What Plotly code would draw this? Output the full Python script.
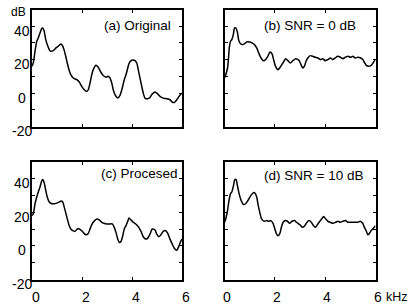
import plotly.graph_objects as go

# ---------------- data (kHz, dB) ----------------
a_khz = [0, 0.05, 0.12, 0.19, 0.25, 0.32, 0.39, 0.43, 0.48, 0.55, 0.61, 0.69, 0.75, 0.85, 0.96, 1.05, 1.15, 1.21,
         1.28, 1.35, 1.41, 1.48, 1.55, 1.65, 1.79, 1.89, 1.99, 2.09, 2.19, 2.25, 2.32, 2.39, 2.45, 2.56, 2.65, 2.75,
         2.85, 2.96, 3.03, 3.12, 3.19, 3.25, 3.32, 3.43, 3.52, 3.61, 3.69, 3.76, 3.83, 3.89, 3.99, 4.09, 4.19, 4.25,
         4.32, 4.39, 4.45, 4.52, 4.63, 4.72, 4.81, 4.92, 5.03, 5.12, 5.25, 5.39, 5.52, 5.61, 5.69, 5.79, 5.88, 5.96, 6.0]
a_db = [16, 18, 25, 31, 33, 36, 38.6, 39, 37.4, 32, 29, 26, 25, 25.4, 27, 28, 29.4, 28.6,
        26, 22, 18, 14, 11, 9, 8, 6.6, 4, 2, 1, 2, 6, 11, 14, 16.6, 15.4, 12.6,
        10.5, 9.5, 10, 9, 6, 2, -1, -3, -1.4, 3, 8, 11, 15, 18, 19.6, 19.6, 18, 14,
        9, 4, 0, -3, -3.4, -2.6, -0.6, 0.6, -0.6, -2, -3, -3.4, -4, -5.4, -5.6, -4, -2, -0.6, 0]

b_khz = [0, 0.05, 0.12, 0.16, 0.19, 0.24, 0.29, 0.35, 0.40, 0.45, 0.51, 0.56, 0.61, 0.69, 0.79, 0.88, 0.99, 1.09,
         1.19, 1.28, 1.36, 1.45, 1.55, 1.63, 1.72, 1.81, 1.89, 1.95, 2.03, 2.12, 2.21, 2.32, 2.43, 2.52, 2.61, 2.72,
         2.83, 2.92, 2.97, 3.04, 3.11, 3.17, 3.24, 3.31, 3.41, 3.51, 3.60, 3.71, 3.81, 3.90, 4.00, 4.10, 4.21, 4.30,
         4.40, 4.50, 4.61, 4.70, 4.80, 4.90, 5.01, 5.10, 5.19, 5.30, 5.41, 5.50, 5.57, 5.63, 5.72, 5.83, 5.90, 5.96, 6.0]
b_db = [9, 11, 15, 21, 27, 31, 32, 35, 39, 39, 36.6, 32, 30, 29, 29.4, 30.6, 30.6, 30,
        29, 27, 24, 21, 19.4, 20, 22, 24.6, 23.4, 20, 16, 14, 15.4, 18, 20.6, 19.4, 18, 19.4,
        20.6, 20, 19.4, 17, 15, 16, 19, 21, 22.4, 22, 21.4, 21, 20, 20.6, 19.4, 20, 21, 20,
        21, 22, 21.4, 20.6, 21.4, 22, 21.4, 22, 21, 21.4, 21, 20, 18, 16.6, 16, 16.6, 18, 19.4, 20]

c_khz = [0, 0.05, 0.12, 0.19, 0.25, 0.32, 0.39, 0.43, 0.48, 0.55, 0.61, 0.69, 0.79, 0.88, 0.99, 1.09, 1.16, 1.23,
         1.29, 1.36, 1.43, 1.49, 1.55, 1.63, 1.72, 1.81, 1.89, 1.99, 2.08, 2.16, 2.25, 2.32, 2.39, 2.48, 2.59, 2.69,
         2.79, 2.88, 2.99, 3.09, 3.21, 3.29, 3.36, 3.43, 3.49, 3.56, 3.63, 3.69, 3.76, 3.83, 3.88, 3.96, 4.05, 4.15,
         4.25, 4.36, 4.45, 4.55, 4.63, 4.72, 4.81, 4.92, 4.99, 5.08, 5.16, 5.25, 5.35, 5.43, 5.52, 5.61, 5.69, 5.79,
         5.88, 5.96, 6.0]
c_db = [18, 19, 25, 29, 32, 35, 38.6, 39.4, 38, 33, 29, 26, 25, 25, 25.4, 26, 26.6, 26,
        23, 19, 15, 12, 10, 9, 8.6, 10, 10, 9, 7.4, 6.6, 7.4, 10, 12.6, 14.6, 16, 15.4,
        14, 13.4, 13, 13, 13, 11, 8, 4, 2, 2.6, 6, 10, 12, 14.6, 16.6, 15.4, 14, 13,
        11.4, 8.6, 5.4, 4, 4.6, 7, 10, 9.4, 7, 5.4, 6.6, 8.6, 9, 7.4, 4, 1, -1.4, -2.6,
        0, 3, 4]

d_khz = [0, 0.05, 0.12, 0.18, 0.24, 0.29, 0.36, 0.41, 0.46, 0.51, 0.58, 0.66, 0.75, 0.84, 0.95, 1.05, 1.15, 1.21,
         1.28, 1.34, 1.41, 1.47, 1.58, 1.67, 1.76, 1.84, 1.93, 2.0, 2.07, 2.13, 2.20, 2.26, 2.33, 2.42, 2.5, 2.59,
         2.68, 2.79, 2.86, 2.92, 3.0, 3.1, 3.19, 3.28, 3.36, 3.45, 3.54, 3.62, 3.71, 3.81, 3.89, 3.94, 4.02, 4.11,
         4.2, 4.31, 4.41, 4.51, 4.6, 4.7, 4.81, 4.9, 4.99, 5.1, 5.2, 5.3, 5.39, 5.49, 5.56, 5.63, 5.69, 5.76,
         5.82, 5.89, 6.0]
d_db = [14, 16, 21, 27, 31, 32, 36, 39.4, 39.4, 36, 31, 27, 24.6, 25, 27.4, 30, 31.6, 31.4,
        29, 24, 19.4, 16, 14.6, 15, 14.6, 15, 13.4, 10, 7, 6, 7.4, 11, 14, 15, 14.6, 13.4,
        14.6, 15, 14, 13.4, 12.5, 11, 12, 14, 15, 14, 12, 11, 13, 15, 16.6, 17.4, 16, 14.6,
        14, 13.4, 14, 14.6, 14, 14.6, 15, 14, 14, 14, 14, 14, 14.6, 13.4, 11, 9, 6.6, 7.4,
        9, 10, 12]

panel_titles = ["(a) Original", "(b) SNR = 0 dB", "(c) Procesed", "(d) SNR = 10 dB"]
y_tick_labels = [40, 20, 0, -20]
x_tick_labels = [0, 2, 4, 6]

# ---------------- layout geometry (pixels) ----------------
W, H = 414, 307
FONT = "Liberation Sans, Arial, sans-serif"
col_px = [(32, 182), (224.5, 375.5)]
row_px = [(9.5, 126.5), (161.7, 279.5)]


def px_x(p):
    return p / W


def px_y(p):
    return 1 - p / H


fig = go.Figure()
series = [(a_khz, a_db), (b_khz, b_db), (c_khz, c_db), (d_khz, d_db)]
layout = dict(width=W, height=H, autosize=False, margin=dict(l=0, r=0, t=0, b=0),
              paper_bgcolor="white", plot_bgcolor="white", showlegend=False,
              font=dict(family=FONT, color="black"))
annotations = []

for i, (xs, ys) in enumerate(series):
    r, c = divmod(i, 2)
    n = "" if i == 0 else str(i + 1)
    fig.add_trace(go.Scatter(x=xs, y=ys, mode="lines", xaxis="x" + n, yaxis="y" + n,
                             line=dict(color="black", width=1.5, shape="spline", smoothing=0.6),
                             hoverinfo="skip"))
    x0, x1 = col_px[c]
    y0, y1 = row_px[r]
    layout["xaxis" + n] = dict(domain=[px_x(x0), px_x(x1)], anchor="y" + n, range=[0, 6],
                               tickmode="linear", tick0=0, dtick=2, ticks="inside", ticklen=3,
                               tickwidth=1, tickcolor="black", showticklabels=False,
                               showline=True, linecolor="black", linewidth=2, mirror="ticks",
                               showgrid=False, zeroline=False, fixedrange=True)
    layout["yaxis" + n] = dict(domain=[px_y(y1), px_y(y0)], anchor="x" + n, range=[-20, 50],
                               tickmode="linear", tick0=-20, dtick=10, ticks="inside", ticklen=3,
                               tickwidth=1, tickcolor="black", showticklabels=False,
                               showline=True, linecolor="black", linewidth=2, mirror="ticks",
                               showgrid=False, zeroline=False, fixedrange=True)
    # panel title
    title_right = [173, 358, 180, 365][i]
    title_y = [25, 25, 173.5, 175][i]
    annotations.append(dict(text=panel_titles[i], xref="paper", yref="paper",
                            x=px_x(title_right), y=px_y(title_y), xanchor="right", yanchor="middle",
                            showarrow=False, font=dict(size=13.5, family=FONT, color="black")))
    # y tick labels on left column
    if c == 0:
        for v in y_tick_labels:
            annotations.append(dict(text=str(v), xref="paper", yref="y" + n, x=px_x(22), y=v,
                                    xanchor="center", yanchor="middle", yshift=-4.5, showarrow=False,
                                    font=dict(size=14, family=FONT, color="black")))
    # x tick labels on bottom row
    if r == 1:
        for v in x_tick_labels:
            annotations.append(dict(text=str(v), xref="x" + n, yref="paper", x=v, y=px_y(296.5),
                                    xanchor="center", yanchor="middle", xshift=4 if c == 0 else 2,
                                    showarrow=False, font=dict(size=14, family=FONT, color="black")))

annotations.append(dict(text="dB", xref="paper", yref="paper", x=px_x(18), y=px_y(11.5),
                        xanchor="center", yanchor="middle", showarrow=False,
                        font=dict(size=12, family=FONT, color="black")))
annotations.append(dict(text="kHz", xref="paper", yref="paper", x=px_x(397), y=px_y(296.5),
                        xanchor="center", yanchor="middle", showarrow=False,
                        font=dict(size=12.5, family=FONT, color="black")))

layout["annotations"] = annotations
fig.update_layout(**layout)
fig.write_html("out.html", config={"displayModeBar": False},
               post_script="document.body.style.margin='0';document.body.style.overflow='hidden';")
